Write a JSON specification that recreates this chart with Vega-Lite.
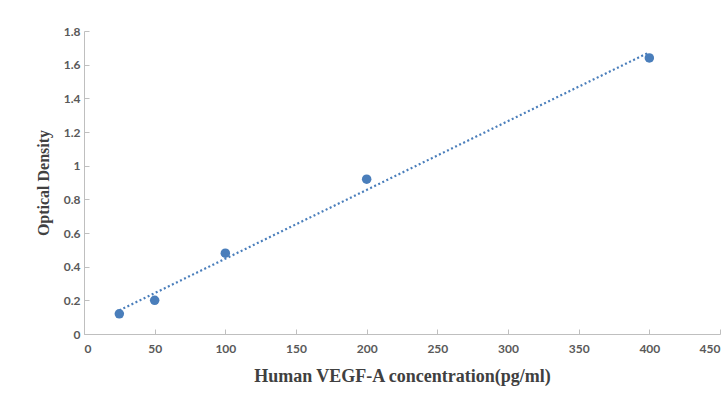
{
  "$schema": "https://vega.github.io/schema/vega-lite/v6.json",
  "autosize": "none",
  "width": 636,
  "height": 303,
  "padding": {"left": 84, "top": 31, "right": 8, "bottom": 73},
  "background": "white",
  "config": {"view": {"stroke": null}},
  "data": {"values": [
    {"conc": 25, "od": 0.12},
    {"conc": 50, "od": 0.20},
    {"conc": 100, "od": 0.48},
    {"conc": 200, "od": 0.92},
    {"conc": 400, "od": 1.64}
  ]},
  "encoding": {
    "x": {
      "field": "conc", "type": "quantitative",
      "scale": {"domain": [0, 450], "nice": false},
      "axis": {
        "title": "Human VEGF-A concentration(pg/ml)",
        "values": [0, 50, 100, 150, 200, 250, 300, 350, 400, 450],
        "labelOverlap": false,
        "grid": false,
        "domainColor": "#bfbfbf",
        "tickColor": "#bfbfbf",
        "tickSize": -5,
        "labelPadding": 14,
        "labelFont": "Lato",
        "labelFontWeight": "bold",
        "labelFontSize": 12,
        "labelColor": "#595959",
        "titleFont": "Liberation Serif",
        "titleFontWeight": "bold",
        "titleFontSize": 18,
        "titleColor": "#404040",
        "titlePadding": 13
      }
    },
    "y": {
      "field": "od", "type": "quantitative",
      "scale": {"domain": [0, 1.8], "nice": false},
      "axis": {
        "title": "Optical Density",
        "values": [0, 0.2, 0.4, 0.6, 0.8, 1, 1.2, 1.4, 1.6, 1.8],
        "format": "~g",
        "labelOverlap": false,
        "grid": false,
        "domainColor": "#bfbfbf",
        "tickColor": "#bfbfbf",
        "tickSize": -5,
        "labelPadding": 9,
        "labelFont": "Lato",
        "labelFontWeight": "bold",
        "labelFontSize": 12,
        "labelColor": "#595959",
        "titleFont": "Liberation Serif",
        "titleFontWeight": "bold",
        "titleFontSize": 16,
        "titleColor": "#404040",
        "titlePadding": 12
      }
    }
  },
  "layer": [
    {
      "transform": [{"regression": "od", "on": "conc", "extent": [25, 400]}],
      "mark": {"type": "line", "color": "#4a7ebb", "strokeWidth": 2.2, "strokeDash": [2, 2.5]}
    },
    {
      "mark": {"type": "point", "filled": true, "color": "#4a7ebb", "opacity": 1, "size": 90}
    }
  ]
}
